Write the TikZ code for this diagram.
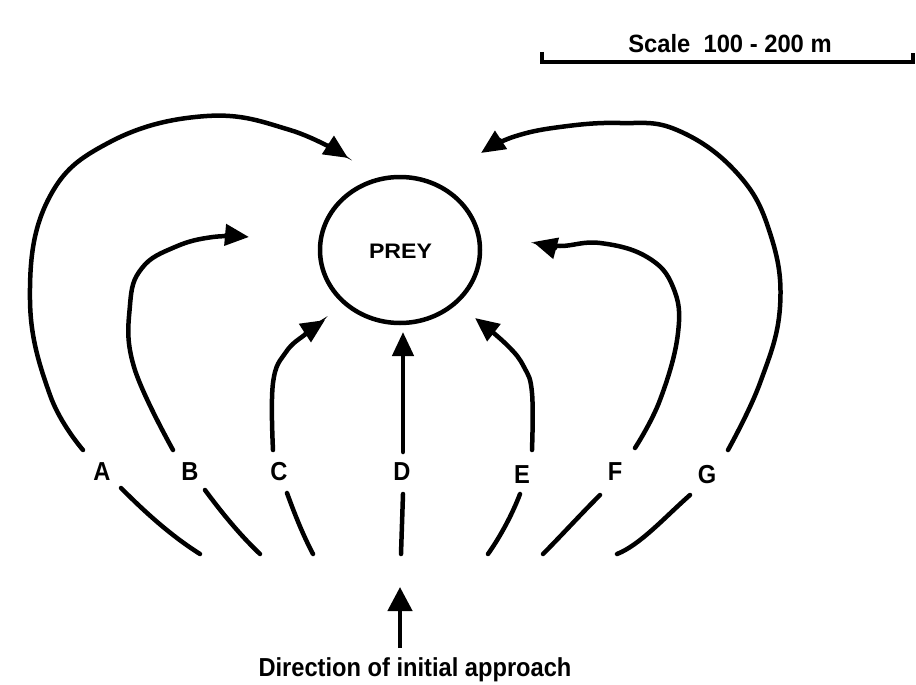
\documentclass[tikz,border=0pt]{standalone}
\usepackage{fontspec}
\setmainfont{Liberation Sans}
\usetikzlibrary{arrows.meta,calc,shapes.geometric}
\begin{document}
\begin{tikzpicture}[x=1pt,y=-1pt,
  path/.style={line width=4.5pt,line cap=round},
  arr/.style={path,-{Triangle[length=24pt,width=21pt]}},
  lbl/.style={font=\fontsize{26}{30}\selectfont\bfseries,inner sep=0pt,anchor=base,xscale=0.91}]
\useasboundingbox (0,0) rectangle (916,685);
% scale bar
\node[lbl,font=\fontsize{25}{30}\selectfont\bfseries,xscale=1.044] (scale) at (730,53) {Scale\ \ 100 - 200 m};
\coordinate (s1) at (542,52);
\coordinate (s2) at (913,53);
\draw[line width=4.5pt] (s1) -- ++(0,10) -- ($(s2)+(0,9)$) -- (s2);
% prey
\node[draw,line width=4.5pt,ellipse,minimum width=160pt,minimum height=146pt,inner sep=0pt] (prey) at (400,250) {};
\node[lbl,font=\fontsize{21}{25}\selectfont\bfseries,xscale=1.21] (preytxt) at (400.5,258) {PREY};
% labels
\node[lbl] (A) at (102,480) {A};
\node[lbl] (B) at (190,480) {B};
\node[lbl] (C) at (279,480) {C};
\node[lbl] (D) at (402,480) {D};
\node[lbl] (E) at (522,483) {E};
\node[lbl] (F) at (615,480) {F};
\node[lbl] (G) at (707,483) {G};
% lower segments
\draw[path] (121,488) .. controls (145,512) and (170,535) .. (200,554);
\draw[path] (205,490) .. controls (222,513) and (240,535) .. (260,554);
\draw[path] (287,493) .. controls (295,515) and (303,535) .. (313,554);
\draw[path] (403,494) -- (401,554);
\draw[path] (520,494) .. controls (512,515) and (500,537) .. (488,554);
\draw[path] (600,495) .. controls (580,515) and (560,537) .. (543,554);
\draw[path] (690,495) .. controls (665,517) and (640,545) .. (617,554);
% upper arrows
\draw[arr] plot[smooth,tension=0.7] coordinates {(83,450) (50,395) (30,300) (48,200) (110,142) (207,116) (290,130) (348,158)};
\draw[arr] plot[smooth,tension=0.7] coordinates {(173,450) (134,367) (130,305) (142,268) (175,247) (213,237) (249,237)};
\draw[arr] plot[smooth,tension=0.7] coordinates {(273,450) (273,383) (286,352) (307,333) (325,320)};
\draw[arr] (403,452) -- (403,332);
\draw[arr] plot[smooth,tension=0.7] coordinates {(532,450) (532,393) (524,367) (507,345) (475,318)};
\draw[arr] plot[smooth,tension=0.7] coordinates {(635,448) (660,400) (678,333) (673,287) (647,257) (600,243) (560,246) (533,242)};
\draw[arr] plot[smooth,tension=0.7] coordinates {(728,450) (760,383) (780,307) (770,233) (737,173) (677,130) (620,123) (560,127) (513,137) (481,153)};
% direction arrow
\node[lbl] (dir) at (415,676) {Direction of initial approach};
\coordinate (d0) at (400,648);
\coordinate (d1) at (400,587);
\draw[line width=4.5pt,-{Triangle[length=24pt,width=24pt]}] (d0) -- (d1);
\end{tikzpicture}
\end{document}
